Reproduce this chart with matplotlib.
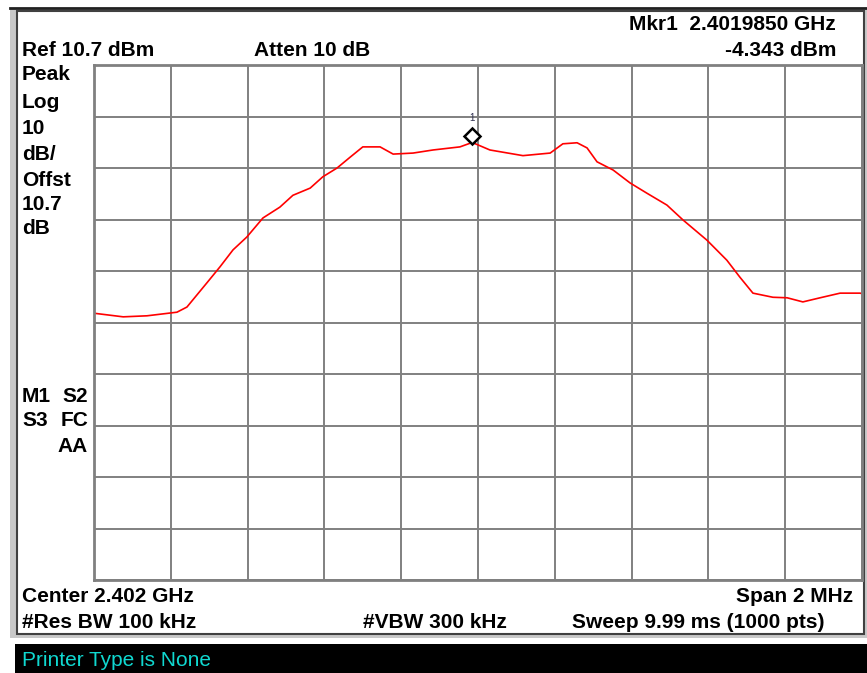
import numpy as np
import matplotlib.pyplot as plt
from matplotlib.patches import Rectangle
import matplotlib.transforms as mtransforms

# trace (GHz, dBm)
freq_ghz = [2.401000, 2.401076, 2.401138, 2.401216, 2.401242, 2.401294, 2.401328,
            2.401362, 2.401398, 2.401440, 2.401484, 2.401518, 2.401563, 2.401596,
            2.401633, 2.401667, 2.401700, 2.401745, 2.401779, 2.401831, 2.401883,
            2.401953, 2.401979, 2.401985, 2.402031, 2.402117, 2.402188, 2.402221,
            2.402258, 2.402284, 2.402310, 2.402352, 2.402396, 2.402440, 2.402492,
            2.402534, 2.402596, 2.402648, 2.402682, 2.402716, 2.402768, 2.402805,
            2.402846, 2.402891, 2.402943, 2.402995, 2.403000]
level_dbm = [-37.5, -38.2, -38.0, -37.3, -36.3, -31.6, -28.5,
             -25.2, -22.7, -19.0, -16.9, -14.6, -13.2, -11.0,
             -9.3, -7.2, -5.2, -5.2, -6.6, -6.4, -5.8,
             -5.2, -4.5, -4.343, -5.8, -6.9, -6.4, -4.6,
             -4.4, -5.4, -8.1, -9.7, -12.2, -14.2, -16.5,
             -19.4, -23.3, -27.2, -30.5, -33.6, -34.4, -34.5,
             -35.3, -34.5, -33.6, -33.6, -33.7]

ref_level = 10.7
db_per_div = 10
center_ghz = 2.402
span_ghz = 0.002
mkr_freq = 2.4019850
mkr_level = -4.343

W, H = 867, 673
fig = plt.figure(figsize=(W / 100, H / 100), dpi=100)
plt.rcParams['font.family'] = ['Liberation Sans', 'DejaVu Sans']

# screen frame drawn in pixel coordinates
bg = fig.add_axes([0, 0, 1, 1])
bg.set_xlim(0, W)
bg.set_ylim(H, 0)
bg.axis('off')
bg.add_patch(Rectangle((10, 8), 857, 630, facecolor='#c8c8c8', edgecolor='none'))
bg.add_patch(Rectangle((17, 11), 847, 623, facecolor='white', edgecolor='#404040', lw=1.5))
bg.plot([10, 867], [8, 8], color='#202020', lw=2)
bg.add_patch(Rectangle((15, 644), 852, 29, facecolor='black', edgecolor='none'))

txt = dict(fontsize=15, fontweight='bold', color='black', va='center')
bg.text(836, 24, 'Mkr1  2.4019850 GHz', ha='right', **txt)
bg.text(22, 50, 'Ref 10.7 dBm', ha='left', **txt)
bg.text(254, 50, 'Atten 10 dB', ha='left', **txt)
bg.text(836, 50, '-4.343 dBm', ha='right', **txt)
side = ['Peak', 'Log', '10', 'dB/', 'Offst', '10.7', 'dB']
side_y = [75, 102, 128, 154, 180, 205, 229]
for s, y in zip(side, side_y):
    bg.text(22, y, s, ha='left', **txt)
bg.text(22, 396, 'M1', ha='left', **txt)
bg.text(88, 396, 'S2', ha='right', **txt)
bg.text(22, 421, 'S3', ha='left', **txt)
bg.text(88, 421, 'FC', ha='right', **txt)
bg.text(88, 447, 'AA', ha='right', **txt)
bg.text(22, 596, 'Center 2.402 GHz', ha='left', **txt)
bg.text(853, 596, 'Span 2 MHz', ha='right', **txt)
bg.text(22, 623, '#Res BW 100 kHz', ha='left', **txt)
bg.text(363, 623, '#VBW 300 kHz', ha='left', **txt)
bg.text(825, 623, 'Sweep 9.99 ms (1000 pts)', ha='right', **txt)
bg.text(22, 661, 'Printer Type is None', ha='left', va='center',
        fontsize=15, color='#10d8d0')

# graticule
ax = fig.add_axes([94 / W, 1 - 580 / H, 768 / W, 515 / H])
ax.set_xlim(center_ghz - span_ghz / 2, center_ghz + span_ghz / 2)
ax.set_ylim(ref_level - 10 * db_per_div, ref_level)
ax.set_xticks(np.linspace(center_ghz - span_ghz / 2, center_ghz + span_ghz / 2, 11))
ax.set_yticks(np.arange(ref_level - 10 * db_per_div, ref_level + 0.1, db_per_div))
ax.grid(True, color='#808080', lw=1.4)
ax.tick_params(length=0, labelbottom=False, labelleft=False)
for sp in ax.spines.values():
    sp.set_color('#808080')
    sp.set_linewidth(2)

ax.plot(freq_ghz, level_dbm, color='red', lw=1.2)

up = mtransforms.offset_copy(ax.transData, fig=fig, x=0, y=6, units='dots')
ax.plot([mkr_freq], [mkr_level], marker='D', ms=8, mfc='white', mec='black',
        mew=1.8, transform=up, clip_on=False)
ax.text(mkr_freq, mkr_level, '1', transform=mtransforms.offset_copy(
    ax.transData, fig=fig, x=0, y=24, units='dots'),
        ha='center', va='center', fontsize=7, color='#303050')

fig.savefig('out.png', dpi=100)
